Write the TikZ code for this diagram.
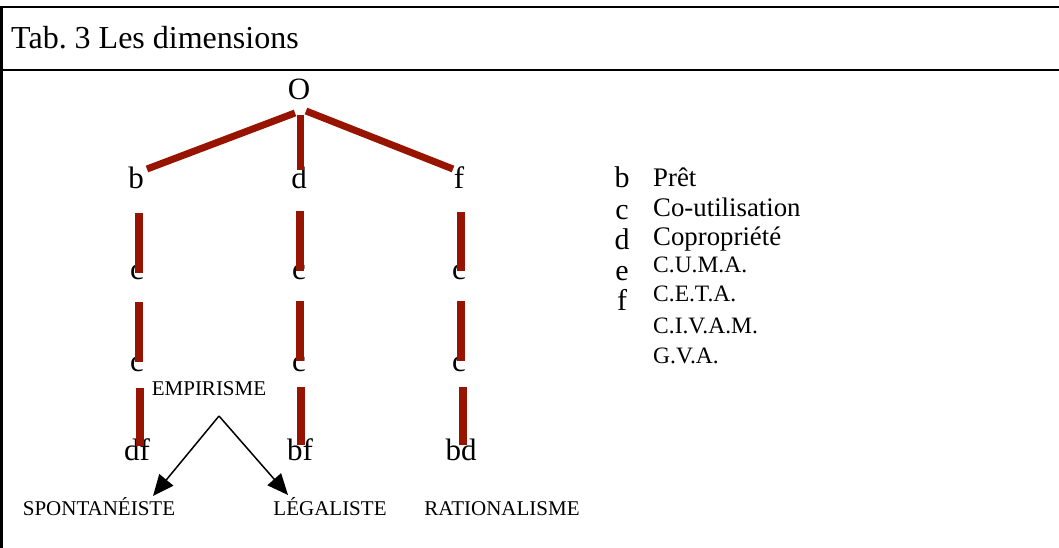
\documentclass[tikz,border=0pt]{standalone}
\usepackage{fontspec}
\setmainfont{Liberation Serif}
\usetikzlibrary{arrows.meta}
\definecolor{barred}{RGB}{150,20,0}
\tikzset{
  frame/.style={draw=black,line width=2.5pt},
  treeletter/.style={font=\fontsize{31}{31}\selectfont,inner sep=0pt,anchor=base},
  legletter/.style={font=\fontsize{30}{30}\selectfont,inner sep=0pt,anchor=base},
  legbig/.style={font=\fontsize{26.8}{26.8}\selectfont,inner sep=0pt,anchor=base west},
  legsmall/.style={font=\fontsize{23.5}{23.5}\selectfont,inner sep=0pt,anchor=base west},
  catlabel/.style={font=\fontsize{21}{21}\selectfont,inner sep=0pt,anchor=base},
  bar/.style={draw=barred,line width=8pt,line cap=butt},
  diag/.style={draw=barred,line width=7pt,line cap=butt},
  arr/.style={draw=black,line width=1.5pt,-{Triangle[length=21pt,width=18pt]}}
}
\begin{document}
\begin{tikzpicture}[x=1pt,y=-1pt]
\useasboundingbox (0,0) rectangle (1059,548);
% frame
\draw[frame] (1.5,7) -- (1059,7);
\draw[frame] (1.5,70) -- (1059,70);
\draw[frame] (1.5,5.75) -- (1.5,548);
\node[font=\fontsize{32}{32}\selectfont,inner sep=0pt,anchor=base west] (title) at (11,49) {Tab.\ 3 Les dimensions};
% tree letters
\node[treeletter] (O) at (299,100) {O};
\node[treeletter] (b) at (136,189) {b};
\node[treeletter] (d) at (299,189) {d};
\node[treeletter] (f) at (459,189) {f};
\node[treeletter] (c11) at (137,279) {c};
\node[treeletter] (c12) at (299,279) {c};
\node[treeletter] (c13) at (459,279) {c};
\node[treeletter] (c21) at (137,371) {c};
\node[treeletter] (c22) at (299,371) {c};
\node[treeletter] (c23) at (459,371) {c};
\node[treeletter] (df) at (137,460) {df};
\node[treeletter] (bf) at (300,460) {bf};
\node[treeletter] (bd) at (461,460) {bd};
% diagonal links
\draw[diag] (147,169) -- (295,113);
\draw[diag] (300,115) -- (300,170);
\draw[diag] (306,111) -- (453,169);
% vertical bars
\draw[bar] (139,213) -- (139,273);
\draw[bar] (300,211) -- (300,271);
\draw[bar] (461,212) -- (461,271);
\draw[bar] (139,302) -- (139,362);
\draw[bar] (300,301) -- (300,361);
\draw[bar] (461,301) -- (461,361);
\draw[bar] (140,388) -- (140,446);
\draw[bar] (301,387) -- (301,445);
\draw[bar] (463,387) -- (463,445);
% categories
\node[catlabel] (emp) at (209,395) {EMPIRISME};
\node[catlabel] (spo) at (99,515) {SPONTANÉISTE};
\node[catlabel] (leg) at (330,515) {LÉGALISTE};
\node[catlabel] (rat) at (502,515) {RATIONALISME};
\coordinate (apex) at (219,416);
\coordinate (tipL) at (153,496);
\coordinate (tipR) at (288,495);
\draw[arr] (apex) -- (tipL);
\draw[arr] (apex) -- (tipR);
% legend
\node[legletter] (lb) at (622,187) {b};
\node[legletter] (lc) at (622,219) {c};
\node[legletter] (ld) at (622,249) {d};
\node[legletter] (le) at (622,280) {e};
\node[legletter] (lf) at (622,310) {f};
\node[legbig] (t1) at (653,186) {Prêt};
\node[legbig] (t2) at (653,216) {Co-utilisation};
\node[legbig] (t3) at (653,245) {Copropriété};
\node[legsmall] (t4) at (653,272) {C.U.M.A.};
\node[legsmall] (t5) at (653,301) {C.E.T.A.};
\node[legsmall] (t6) at (653,333) {C.I.V.A.M.};
\node[legsmall] (t7) at (653,363) {G.V.A.};
\end{tikzpicture}
\end{document}
